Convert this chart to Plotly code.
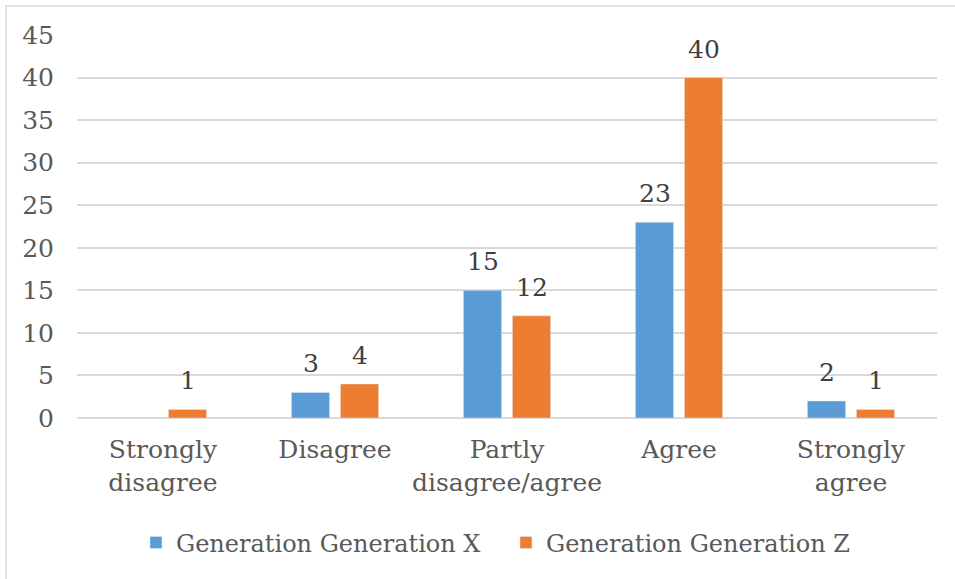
import plotly.graph_objects as go

categories = ["Strongly<br>disagree", "Disagree", "Partly<br>disagree/agree", "Agree", "Strongly<br>agree"]
gen_x = [None, 3, 15, 23, 2]
gen_z = [1, 4, 12, 40, 1]
series_names = ["Generation Generation X", "Generation Generation Z"]
y_ticks = [0, 5, 10, 15, 20, 25, 30, 35, 40, 45]

BLUE = "#5B9BD5"
ORANGE = "#ED7D31"
FONT = "DejaVu Serif"
AXIS_GREY = "#595959"
LABEL_GREY = "#404040"
SIZE = 25
LEGEND_SIZE = 24

fig = go.Figure()
fig.add_trace(go.Bar(x=categories, y=gen_x, name=series_names[0], marker_color=BLUE, legend="legend"))
fig.add_trace(go.Bar(x=categories, y=gen_z, name=series_names[1], marker_color=ORANGE, legend="legend2"))

# value labels above each bar, shifted onto the left / right bar of each group
annotations = []
for vals, shift in ((gen_x, -24.5), (gen_z, 24.5)):
    for cat, v in zip(categories, vals):
        if v is None:
            continue
        annotations.append(dict(
            x=cat, y=v, xref="x", yref="y", text=str(v), showarrow=False,
            xshift=shift, yshift=12, yanchor="bottom",
            font=dict(family=FONT, size=SIZE, color=LABEL_GREY),
        ))

legend_common = dict(
    orientation="h", y=-0.326, yanchor="middle", xanchor="left",
    font=dict(family=FONT, size=LEGEND_SIZE, color=AXIS_GREY),
    bgcolor="rgba(0,0,0,0)",
)

fig.update_layout(
    width=955, height=579,
    margin=dict(l=77, r=18, t=35, b=161),
    paper_bgcolor="white", plot_bgcolor="white",
    barmode="group", bargap=0.43, bargroupgap=0.22,
    font=dict(family=FONT, size=SIZE, color=AXIS_GREY),
    showlegend=True,
    legend=dict(x=0.0686, **legend_common),
    legend2=dict(x=0.4988, **legend_common),
    annotations=annotations,
    shapes=[dict(
        type="rect", xref="paper", yref="paper",
        x0=(6 - 77) / 860, x1=1.2, y0=-0.6, y1=(418 - 6) / 383,
        line=dict(color="#D9D9D9", width=1.5), fillcolor="rgba(0,0,0,0)", layer="below",
    )],
)
fig.update_yaxes(
    range=[0, 45], tickvals=y_ticks, showgrid=True, gridcolor="#D9D9D9", gridwidth=1.5,
    zeroline=True, zerolinecolor="#D9D9D9", zerolinewidth=1.5,
    showline=False, ticks="", ticklabelstandoff=22,
    tickfont=dict(family=FONT, size=SIZE, color=AXIS_GREY),
)
fig.update_xaxes(
    showline=False, ticks="", showgrid=False, ticklabelstandoff=14, tickangle=0,
    tickfont=dict(family=FONT, size=SIZE, color=AXIS_GREY),
)

fig.write_html("out.html")
